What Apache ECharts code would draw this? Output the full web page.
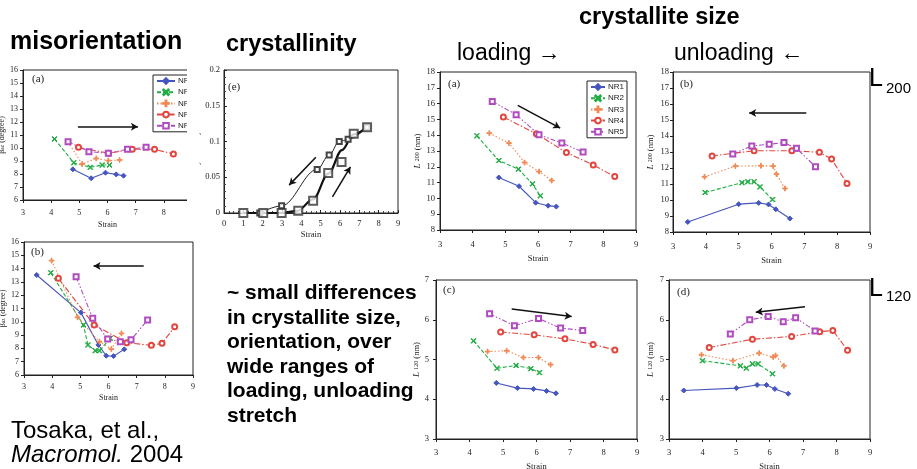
<!DOCTYPE html>
<html>
<head>
<meta charset="utf-8">
<script src="https://cdn.jsdelivr.net/npm/echarts@6/dist/echarts.min.js"></script>
<style>
html, body { margin: 0; padding: 0; background: #fff; }
#main { width: 917px; height: 469px; }
</style>
</head>
<body>
<div id="main"></div>
<script>
// samples
var samples = ['NR1', 'NR2', 'NR3', 'NR4', 'NR5'];

// misorientation (a) loading
var misLoadStrain = [[4.77, 5.42, 5.93, 6.31, 6.57], [4.12, 4.80, 5.39, 5.81, 6.07], [4.60, 5.10, 5.60, 6.03, 6.43], [4.97, 6.04, 6.88, 7.67, 8.34], [4.60, 5.34, 6.03, 6.71, 7.37]];
var misLoadBeta = [[8.36, 7.67, 8.10, 7.97, 7.87], [10.69, 8.87, 8.51, 8.69, 8.69], [10.46, 8.77, 9.20, 9.03, 9.08], [10.05, 9.60, 9.90, 9.90, 9.54], [10.49, 9.72, 9.60, 9.90, 10.05]];
// misorientation (b) unloading
var misUnloadStrain = [[3.45, 5.02, 5.64, 5.92, 6.18, 6.56], [3.95, 5.11, 5.27, 5.53, 5.68, 6.06], [3.98, 4.90, 5.68, 6.10, 6.46], [4.22, 5.49, 6.65, 7.52, 7.90, 8.35], [4.85, 5.44, 5.97, 6.42, 6.80, 7.39]];
var misUnloadBeta = [[13.52, 10.69, 8.26, 7.45, 7.42, 7.93], [13.69, 9.76, 8.26, 7.83, 7.83, 8.76], [14.60, 10.34, 8.50, 7.95, 9.13], [13.27, 9.76, 8.43, 8.23, 8.38, 9.63], [13.39, 10.26, 8.70, 8.50, 8.65, 10.14]];

// crystallinity (e)
var crLoadStrain = [1, 2.03, 2.98, 3.84, 4.61, 5.39, 6.08, 6.71, 7.4];
var crLoadIndex = [0, 0, 0, 0.003, 0.017, 0.056, 0.0715, 0.111, 0.12];
var crLoadCurveStrain = [1, 2, 3, 3.8, 4.6, 5.4, 6.1, 6.7, 7.4];
var crLoadCurveIndex = [0, 0, 0, 0.003, 0.019, 0.055, 0.088, 0.11, 0.12];
var crUnloadStrain = [1.85, 2.98, 4.82, 5.44, 5.96, 6.42, 7.4];
var crUnloadIndex = [0, 0.01, 0.061, 0.081, 0.1, 0.103, 0.12];

// L200 loading / unloading
var l200LoadStrain = [[4.80, 5.42, 5.93, 6.31, 6.56], [4.13, 4.80, 5.40, 5.83, 6.07], [4.51, 5.11, 5.59, 6.03, 6.42], [4.94, 5.95, 6.87, 7.69, 8.35], [4.60, 5.33, 6.03, 6.73, 7.38]];
var l200LoadSize = [[11.32, 10.77, 9.73, 9.54, 9.48], [13.96, 12.40, 11.85, 10.92, 10.16], [14.13, 13.50, 12.27, 11.70, 11.13], [15.15, 14.09, 12.90, 12.12, 11.38], [16.14, 15.30, 14.03, 13.50, 12.93]];
var l200UnloadStrain = [[3.45, 5.00, 5.61, 5.91, 6.13, 6.56], [3.98, 5.10, 5.28, 5.47, 5.65, 6.03], [3.96, 4.90, 5.68, 6.05, 6.15, 6.41], [4.19, 5.47, 6.62, 7.46, 7.83, 8.30], [4.82, 5.40, 5.93, 6.38, 6.76, 7.34]];
var l200UnloadSize = [[8.63, 9.74, 9.82, 9.72, 9.42, 8.84], [10.47, 11.08, 11.14, 11.14, 10.82, 10.03], [11.45, 12.12, 12.14, 12.12, 11.62, 10.72], [12.75, 13.08, 13.08, 12.98, 12.56, 11.03], [12.87, 13.38, 13.48, 13.59, 13.23, 12.08]];

// L120 loading / unloading
var l120LoadStrain = [[4.80, 5.43, 5.91, 6.30, 6.58], [4.12, 4.82, 5.39, 5.83, 6.09], [4.54, 5.11, 5.61, 6.06, 6.42], [4.93, 5.93, 6.85, 7.69, 8.34], [4.60, 5.34, 6.06, 6.72, 7.38]];
var l120LoadSize = [[4.41, 4.28, 4.26, 4.21, 4.15], [5.47, 4.78, 4.85, 4.77, 4.67], [5.20, 5.22, 5.05, 5.05, 4.87], [5.69, 5.62, 5.52, 5.38, 5.24], [6.15, 5.85, 6.03, 5.79, 5.73]];
var l120UnloadStrain = [[3.44, 5.01, 5.63, 5.91, 6.16, 6.56], [4.00, 5.13, 5.31, 5.49, 5.66, 6.09], [3.97, 4.91, 5.69, 6.11, 6.18, 6.43], [4.20, 5.49, 6.66, 7.50, 7.89, 8.33], [4.83, 5.41, 5.96, 6.41, 6.78, 7.36]];
var l120UnloadSize = [[4.22, 4.28, 4.36, 4.36, 4.26, 4.14], [4.97, 4.84, 4.78, 4.89, 4.89, 4.64], [5.12, 4.97, 5.16, 5.06, 5.10, 4.84], [5.30, 5.51, 5.58, 5.70, 5.73, 5.23], [5.64, 6.00, 6.08, 5.95, 6.05, 5.72]];

// arrows (data coords)
var misLoadArrow = [[4.95, 11.64], [7.08, 11.64]];
var misUnloadArrow = [[7.25, 14.2], [5.47, 14.2]];
var crDownArrow = [[4.75, 0.078], [3.37, 0.039]];
var crUpArrow = [[5.61, 0.0224], [6.54, 0.0645]];
var l200LoadArrow = [[5.38, 15.89], [6.68, 14.45]];
var l200UnloadArrow = [[7.06, 15.43], [5.32, 15.43]];
var l120LoadArrow = [[5.26, 6.27], [7.05, 6.08]];
var l120UnloadArrow = [[7.06, 6.33], [5.59, 6.19]];

(function () {
    var myChart = echarts.init(document.getElementById('main'));
    var serif = '"Liberation Serif", "Times New Roman", serif';
    var sans = '"Liberation Sans", Arial, sans-serif';

    var colors = ['#4656bf', '#22ad44', '#f08a55', '#e2463f', '#b04cc0'];
    var lineTypes = ['solid', [4, 2], [1.5, 2], [6, 2, 1.5, 2], [5, 2, 1.5, 2, 1.5, 2]];
    var xMark = 'path://M0,1L1,0L5,4L9,0L10,1L6,5L10,9L9,10L5,6L1,10L0,9L4,5Z';
    var plusMark = 'path://M4.2,0H5.8V4.2H10V5.8H5.8V10H4.2V5.8H0V4.2H4.2Z';
    var marks = ['diamond', xMark, plusMark, 'emptyCircle', 'emptyRect'];
    var markSizes = [5, 5, 5, 5, 5];

    function pairs(xs, ys) {
        return xs.map(function (x, i) { return [x, ys[i]]; });
    }

    function arrows(list) {
        return {
            silent: true,
            symbol: ['none', 'arrow'],
            symbolSize: [6, 7],
            lineStyle: { color: '#111', width: 1.5, type: 'solid' },
            label: { show: false },
            emphasis: { disabled: true },
            animation: false,
            data: list.map(function (a) { return [{ coord: a[0] }, { coord: a[1] }]; })
        };
    }

    // grids: mis a, mis b, cryst, L200 load, L200 unload, L120 load, L120 unload
    var grids = [
        { left: 23, top: 70, width: 169, height: 130 },
        { left: 24, top: 242, width: 169, height: 133 },
        { left: 224, top: 70, width: 174, height: 143 },
        { left: 440, top: 72, width: 196, height: 158 },
        { left: 673, top: 72, width: 197, height: 160 },
        { left: 436, top: 280, width: 201, height: 159 },
        { left: 669, top: 280, width: 201, height: 159 }
    ].map(function (g) {
        g.show = true;
        g.borderColor = '#222';
        g.borderWidth = 1;
        g.backgroundColor = 'transparent';
        g.outerBoundsMode = 'none';
        return g;
    });

    function xAx(gi, min, max, fs, margin, gap, minor) {
        return {
            gridIndex: gi, type: 'value', min: min, max: max, interval: 1,
            name: 'Strain', nameLocation: 'middle', nameGap: gap,
            nameTextStyle: { fontFamily: serif, fontSize: fs, color: '#222' },
            axisLine: { onZero: false, lineStyle: { color: '#222', width: 1 } },
            axisTick: { inside: !!minor, length: 3, lineStyle: { color: '#222' } },
            minorTick: { show: !!minor, splitNumber: 4, length: 2, lineStyle: { color: '#444' } },
            axisLabel: { fontFamily: serif, fontSize: fs, color: '#222', margin: margin },
            splitLine: { show: false }
        };
    }

    function yAx(gi, min, max, interval, fs, margin, name, gap, rich, minor) {
        return {
            gridIndex: gi, type: 'value', min: min, max: max, interval: interval,
            name: name, nameLocation: 'middle', nameGap: gap,
            nameTextStyle: { fontFamily: serif, fontSize: fs, color: '#222', rich: rich || {} },
            axisLine: { onZero: false, lineStyle: { color: '#222', width: 1 } },
            axisTick: { inside: !!minor, length: 3, lineStyle: { color: '#222' } },
            minorTick: { show: !!minor, splitNumber: 5, length: 2, lineStyle: { color: '#444' } },
            axisLabel: { fontFamily: serif, fontSize: fs, color: '#222', margin: margin },
            splitLine: { show: false }
        };
    }

    var betaRich = { s: { fontSize: 5.5, fontFamily: serif, color: '#222' } };
    var lRich = {
        i: { fontStyle: 'italic', fontSize: 9, fontFamily: serif, color: '#222' },
        s: { fontSize: 6, fontFamily: serif, color: '#222' }
    };

    var xAxes = [
        xAx(0, 3, 9, 8, 9, 21),
        xAx(1, 3, 9, 8, 7.5, 19),
        xAx(2, 0, 9, 8.5, 6.5, 17, true),
        xAx(3, 3, 9, 8.5, 10, 24),
        xAx(4, 3, 9, 8.5, 10, 24),
        xAx(5, 3, 9, 8.5, 9, 23),
        xAx(6, 3, 9, 8.5, 9, 23)
    ];
    var yAxes = [
        yAx(0, 6, 16, 1, 8, 5, 'β{s|az} (degree)', 12, betaRich),
        yAx(1, 6, 16, 1, 8, 5, 'β{s|az} (degree)', 13, betaRich),
        yAx(2, 0, 0.2, 0.05, 8.5, 4, 'Crystallinity Index', 17, null, true),
        yAx(3, 8, 18, 1, 8.5, 5, '{i|L} {s|200} (nm)', 18, lRich),
        yAx(4, 8, 18, 1, 8.5, 4, '{i|L} {s|200} (nm)', 18, lRich),
        yAx(5, 3, 7, 1, 8.5, 7, '{i|L} {s|120} (nm)', 14, lRich),
        yAx(6, 3, 7, 1, 8.5, 5, '{i|L} {s|120} (nm)', 14, lRich)
    ];

    var panels = [
        { gi: 0, strain: misLoadStrain, vals: misLoadBeta, arrows: [misLoadArrow] },
        { gi: 1, strain: misUnloadStrain, vals: misUnloadBeta, arrows: [misUnloadArrow] },
        { gi: 3, strain: l200LoadStrain, vals: l200LoadSize, arrows: [l200LoadArrow] },
        { gi: 4, strain: l200UnloadStrain, vals: l200UnloadSize, arrows: [l200UnloadArrow] },
        { gi: 5, strain: l120LoadStrain, vals: l120LoadSize, arrows: [l120LoadArrow] },
        { gi: 6, strain: l120UnloadStrain, vals: l120UnloadSize, arrows: [l120UnloadArrow] }
    ];

    var series = [];
    panels.forEach(function (p) {
        samples.forEach(function (name, k) {
            var s = {
                name: name,
                type: 'line',
                xAxisIndex: p.gi,
                yAxisIndex: p.gi,
                data: pairs(p.strain[k], p.vals[k]),
                symbol: marks[k],
                symbolSize: markSizes[k],
                showAllSymbol: true,
                lineStyle: { color: colors[k], width: 1.1, type: lineTypes[k] },
                itemStyle: { color: colors[k], borderColor: colors[k], borderWidth: 1 },
                emphasis: { disabled: true },
                animation: false,
                z: 3
            };
            if (k === 0) s.markLine = arrows(p.arrows);
            series.push(s);
        });
    });

    // crystallinity
    series.push({
        name: 'loading fit', type: 'line', xAxisIndex: 2, yAxisIndex: 2,
        data: pairs(crLoadCurveStrain, crLoadCurveIndex),
        smooth: 0.35, smoothMonotone: 'x', showSymbol: false,
        lineStyle: { color: '#111', width: 2.2 }, animation: false, silent: true
    });
    series.push({
        name: 'unloading', type: 'line', xAxisIndex: 2, yAxisIndex: 2,
        data: pairs(crUnloadStrain, crUnloadIndex),
        smooth: 0.35, smoothMonotone: 'x', symbol: 'emptyRect', symbolSize: 5,
        lineStyle: { color: '#222', width: 1 },
        itemStyle: { color: '#444', borderWidth: 1 }, animation: false, silent: true,
        markLine: arrows([crDownArrow, crUpArrow])
    });
    series.push({
        name: 'loading', type: 'scatter', xAxisIndex: 2, yAxisIndex: 2,
        data: pairs(crLoadStrain, crLoadIndex),
        symbol: 'emptyRect', symbolSize: 8,
        itemStyle: { color: '#333', borderColor: '#333', borderWidth: 1.2 },
        animation: false, silent: true, z: 4
    });

    var legendBase = {
        data: samples, orient: 'vertical', selectedMode: false,
        itemHeight: 7, itemGap: 3.2, padding: [2, 3],
        borderColor: '#222', borderWidth: 1, backgroundColor: '#fff',
        textStyle: { fontSize: 8, fontFamily: sans, color: '#222', padding: [0, 0, 0, -2] }
    };

    function txt(x, y, text, size, weight, extra) {
        var st = { text: text, x: 0, y: 0, fill: '#000', fontSize: size, fontWeight: weight || 'normal', fontFamily: sans, align: 'left', verticalAlign: 'middle' };
        if (extra) Object.keys(extra).forEach(function (k) { st[k] = extra[k]; });
        return { type: 'text', x: x, y: y, z: 50, style: st };
    }
    function plabel(x, y, text) {
        return { type: 'text', x: x, y: y, z: 50, style: { text: text, fill: '#222', fontSize: 11, fontFamily: serif, verticalAlign: 'middle' } };
    }

    var option = {
        backgroundColor: '#fff',
        animation: false,
        grid: grids,
        xAxis: xAxes,
        yAxis: yAxes,
        legend: [
            Object.assign({}, legendBase, { left: 153, top: 75, itemWidth: 18 }),
            Object.assign({}, legendBase, { left: 587, top: 81, itemWidth: 14 })
        ],
        graphic: {
            elements: [
                // right edge of panel (a) is cut in the source figure
                { type: 'rect', z: 40, shape: { x: 187, y: 60, width: 12, height: 175 }, style: { fill: '#fff' } },
                txt(10, 42, 'misorientation', 25, 'bold'),
                txt(226, 45, 'crystallinity', 23.5, 'bold'),
                txt(579, 18, 'crystallite size', 23.5, 'bold'),
                txt(457, 54, 'loading \u2192', 23),
                txt(674, 54, 'unloading \u2190', 23),
                txt(869, 79, 'L', 25),
                txt(886, 89, '200', 15),
                txt(869, 289, 'L', 25),
                txt(886, 297, '120', 15),
                txt(227, 281, '~ small differences\nin crystallite size,\norientation, over\nwide ranges of\nloading, unloading\nstretch', 21, 'bold',
                    { verticalAlign: 'top', lineHeight: 24.5 }),
                txt(11, 419, 'Tosaka, et al.,\n{i|Macromol.} 2004', 24, 'normal',
                    { verticalAlign: 'top', lineHeight: 24.5, rich: { i: { fontStyle: 'italic', fontSize: 24, fontFamily: sans, fill: '#000' } } }),
                plabel(32, 79, '(a)'),
                plabel(31, 252, '(b)'),
                plabel(228, 87, '(e)'),
                plabel(448, 84, '(a)'),
                plabel(680, 84, '(b)'),
                plabel(443, 290, '(c)'),
                plabel(677, 292, '(d)')
            ]
        },
        series: series
    };
    myChart.setOption(option);
    window.addEventListener('resize', function () {
        myChart.resize();
    });
})();
</script>
</body>
</html>
